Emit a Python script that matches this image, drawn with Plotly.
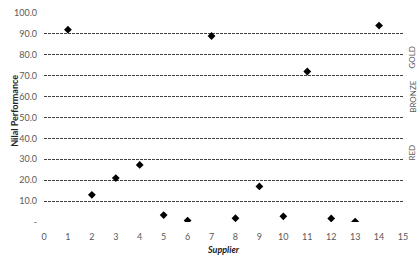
import plotly.graph_objects as go

suppliers = [1, 2, 3, 4, 5, 6, 7, 8, 9, 10, 11, 12, 13, 14]
performance = [92, 13, 21, 27.3, 3.3, 0.7, 89, 1.8, 17, 2.7, 72, 1.7, 0.2, 94]
y_ticks = [0, 10, 20, 30, 40, 50, 60, 70, 80, 90, 100]
y_ticktext = ["-", "10.0", "20.0", "30.0", "40.0", "50.0", "60.0", "70.0", "80.0", "90.0", "100.0"]
x_ticks = list(range(0, 16))
bands = ["GOLD", "BRONZE", "RED"]
band_pos = [0.85, 0.6, 0.285]

font_fam = "Lato, 'Open Sans', sans-serif"
grey = "#595959"

fig = go.Figure()
fig.add_trace(go.Scatter(
    x=suppliers, y=performance, mode="markers",
    marker=dict(symbol="diamond", size=6, color="black"),
    showlegend=False,
))

for name, yp in zip(bands, band_pos):
    fig.add_annotation(text=name, xref="paper", yref="paper", x=1.045, y=yp,
                       textangle=-90, showarrow=False,
                       font=dict(family=font_fam, size=8, color=grey))

fig.add_annotation(text="<b>Nilal Performance</b>", xref="paper", yref="paper",
                   x=-0.103, y=0.53, textangle=-90, showarrow=False,
                   font=dict(family=font_fam, size=9, color="#222"))

fig.update_layout(
    width=420, height=260,
    margin=dict(l=44, r=17, t=7, b=32),
    paper_bgcolor="white", plot_bgcolor="white",
    font=dict(family=font_fam, size=9, color=grey),
    xaxis=dict(range=[0, 15], tickvals=x_ticks, showgrid=False, zeroline=False,
               showline=False, ticks="", ticklabelstandoff=8,
               title=dict(text="<b><i>Supplier</i></b>", standoff=5,
                          font=dict(size=9, color="#222"))),
    yaxis=dict(range=[0, 100], tickvals=y_ticks, ticktext=y_ticktext,
               showgrid=True, gridcolor="#404040", gridwidth=1, griddash="3px,1px",
               zeroline=True, zerolinecolor="white", showline=False, ticks="",
               ticklabelstandoff=6),
)

fig.write_html("out.html")
